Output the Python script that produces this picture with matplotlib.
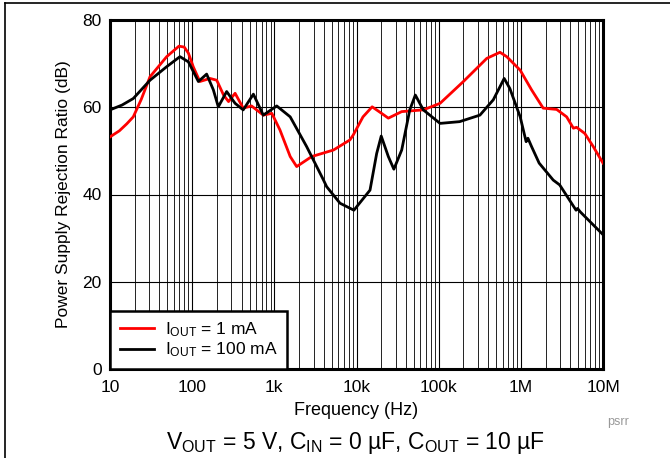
import matplotlib
matplotlib.use('Agg')
import matplotlib.pyplot as plt
from matplotlib.lines import Line2D
from matplotlib.ticker import FixedLocator, LogLocator, NullFormatter

plt.rcParams.update({'font.family': 'Liberation Sans',
                     'mathtext.fontset': 'custom',
                     'mathtext.rm': 'Liberation Sans',
                     'mathtext.it': 'Liberation Sans',
                     'font.size': 13})

# -- PSRR data --
f_1ma = [10, 13, 16, 19.2, 24, 30.7, 49, 69, 80, 90, 103, 124, 165, 199, 241, 277,
         333, 418, 528, 734, 933, 1170, 1560, 1870, 2850, 5250, 8300, 9100, 12000,
         15500, 19500, 24400, 35500, 65000, 104000, 200000, 385000, 557000, 673000,
         982000, 1.35e6, 1.87e6, 2.73e6, 3.61e6, 4.36e6, 4.77e6, 6.0e6, 7.6e6, 1.0e7]
psrr_1ma = [53.2, 54.6, 56.2, 57.8, 61.8, 67.0, 71.6, 74.0, 73.8, 72.4, 69.3, 65.9,
            66.6, 66.2, 62.8, 61.3, 63.2, 59.8, 60.3, 58.2, 58.6, 54.8, 48.7, 46.4,
            48.7, 50.2, 52.5, 53.6, 57.8, 60.1, 58.8, 57.5, 59.0, 59.4, 60.9, 65.9,
            71.2, 72.6, 71.6, 68.5, 64.0, 59.8, 59.5, 57.8, 55.2, 55.4, 54.0, 51.0,
            47.2]

f_100ma = [10, 14, 19.2, 30.7, 49, 71, 90, 119, 150, 181, 208, 263, 333, 418, 556,
           734, 1070, 1560, 2470, 3970, 4330, 6300, 9300, 12600, 14600, 17600, 20000,
           24400, 28500, 35500, 44500, 52000, 65000, 104000, 180000, 318000, 462000,
           627000, 735000, 982000, 1.16e6, 1.22e6, 1.35e6, 1.67e6, 2.48e6, 2.97e6,
           4.7e6, 4.9e6, 5.3e6, 1.0e7]
psrr_100ma = [59.4, 60.5, 62.0, 66.2, 69.3, 71.6, 70.4, 65.9, 67.6, 64.0, 60.1, 63.6,
              60.9, 59.4, 63.0, 58.2, 60.3, 57.8, 51.0, 43.3, 41.8, 38.0, 36.4, 39.5,
              41.0, 49.4, 53.4, 48.7, 45.8, 50.2, 59.4, 62.8, 59.4, 56.3, 56.7, 58.2,
              61.7, 66.6, 64.3, 57.8, 52.1, 52.9, 51.0, 47.2, 43.3, 42.2, 36.4, 36.8,
              36.0, 30.8]

xticks = [10, 100, 1e3, 1e4, 1e5, 1e6, 1e7]
xticklabels = ['10', '100', '1k', '10k', '100k', '1M', '10M']
yticks = [0, 20, 40, 60, 80]

fig = plt.figure(figsize=(6.70, 4.58), dpi=100)
ax = fig.add_axes([110/670, 1-369/458, 493/670, 349/458])

ax.semilogx(f_1ma, psrr_1ma, color='red', lw=2, label=r'I$_{\mathrm{OUT}}$ = 1 mA', zorder=3)
ax.semilogx(f_100ma, psrr_100ma, color='black', lw=2, label=r'I$_{\mathrm{OUT}}$ = 100 mA', zorder=3)

ax.set_xlim(10, 1e7)
ax.set_ylim(0, 80)
ax.xaxis.set_major_locator(FixedLocator(xticks))
ax.set_xticklabels(xticklabels)
ax.xaxis.set_minor_locator(LogLocator(base=10, subs=range(2, 10), numticks=20))
ax.xaxis.set_minor_formatter(NullFormatter())
ax.set_yticks(yticks)
ax.tick_params(which='both', length=0, labelsize=12.5)
ax.tick_params(axis='x', pad=8)
ax.tick_params(axis='y', pad=6)
ax.grid(which='major', color='black', lw=0.8)
ax.grid(which='minor', axis='x', color='#222222', lw=0.7)
for s in ax.spines.values():
    s.set_linewidth(2.2)

ax.set_xlabel('Frequency (Hz)', fontsize=13, labelpad=5)
ax.set_ylabel('Power Supply Rejection Ratio (dB)', fontsize=12.5, labelpad=8)

leg = ax.legend(loc='lower left', borderaxespad=0, fancybox=False, framealpha=1,
                edgecolor='black', fontsize=12.5, handlelength=2.0, labelspacing=0.1,
                borderpad=0.55, handletextpad=0.6)
leg.get_frame().set_linewidth(1.8)

fig.text(607/670, 1-422/458, 'psrr', color='#999999', fontsize=9, ha='left', va='center')
fig.text(355/670, 1-443/458, r'V$_{\mathrm{OUT}}$ = 5 V, C$_{\mathrm{IN}}$ = 0 µF, C$_{\mathrm{OUT}}$ = 10 µF',
         fontsize=16.5, ha='center', va='center')

# page frame lines
fig.add_artist(Line2D([5/670, 1], [1-3/458, 1-3/458], color='black', lw=1.2))
fig.add_artist(Line2D([5/670, 5/670], [0, 1-3/458], color='black', lw=1.2))

fig.savefig('out.png', dpi=100)
